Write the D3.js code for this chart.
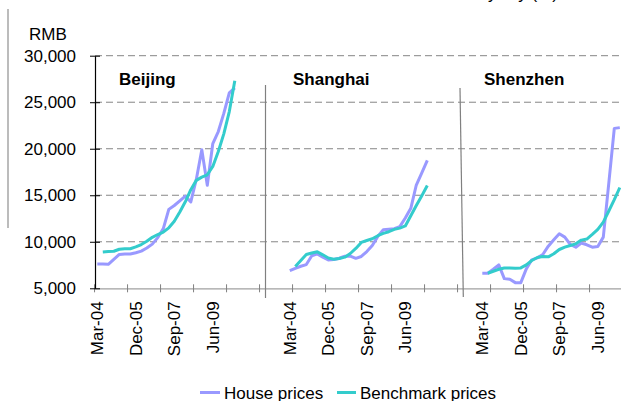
<!DOCTYPE html>
<html>
<head>
<meta charset="utf-8">
<script src="https://cdn.jsdelivr.net/npm/d3@7"></script>
<style>
  html, body { margin: 0; padding: 0; background: #fff; }
  svg { display: block; font-family: "Liberation Sans", Arial, sans-serif; }
</style>
</head>
<body>
<svg id="chart" width="621" height="401"></svg>
<script>
// ---- data ----
const quarters = ["Mar-04","Jun-04","Sep-04","Dec-04","Mar-05","Jun-05","Sep-05","Dec-05",
  "Mar-06","Jun-06","Sep-06","Dec-06","Mar-07","Jun-07","Sep-07","Dec-07",
  "Mar-08","Jun-08","Sep-08","Dec-08","Mar-09","Jun-09","Sep-09","Dec-09","Mar-10","Jun-10"];
const cities = ["Beijing", "Shanghai", "Shenzhen"];
const seriesNames = ["House prices", "Benchmark prices"];

const beijingHouse = [7600, 7600, 7580, 8100, 8640, 8680, 8680, 8820, 9000, 9330, 9750, 10450, 11420,
  13480, 13900, 14400, 14900, 14290, 16700, 19900, 16080, 20560, 21850, 23800, 26000, 26550];
const beijingBenchmark = [null, 8900, 8950, 8980, 9200, 9260, 9250, 9450, 9700, 10050, 10480, 10780, 11050,
  11500, 12200, 13200, 14300, 15600, 16600, 16950, 17200, 18100, 19700, 21600, 24000, 27300];

const shanghaiHouse = [6900, 7150, 7370, 7550, 8500, 8700, 8350, 8040, 8090, 8230, 8450, 8470, 8220,
  8420, 8950, 9600, 10580, 11300, 11350, 11400, 11630, 12550, 13600, 16100, 17400, 18750];
const shanghaiBenchmark = [null, 7350, 8000, 8630, 8800, 8920, 8600, 8250, 8130, 8200, 8350, 8740, 9280,
  9930, 10140, 10320, 10650, 10900, 11080, 11330, 11470, 11700, 12800, 13900, 14950, 16050];

const shenzhenHouse = [6620, 6620, 7050, 7520, 6040, 5970, 5610, 5610, 7090, 8060, 8270, 8630, 9530,
  10220, 10860, 10500, 9710, 9420, 9860, 9680, 9420, 9500, 10500, 16300, 22190, 22270];
const shenzhenBenchmark = [null, 6620, 6830, 7050, 7190, 7190, 7160, 7190, 7520, 7990, 8310, 8420, 8380,
  8710, 9170, 9420, 9600, 9780, 10180, 10290, 10790, 11330, 12120, 13310, 14530, 15830];

const yTicks = [5000, 10000, 15000, 20000, 25000, 30000];
const unitLabel = "RMB";

// ---- layout of the category axis (one axis, three city groups with blank gaps) ----
const groupSpan = 35;           // categories reserved per city group
const totalCats = 96;
const labelEvery = 7;
const tickEvery = 6;

const houseByCity = [beijingHouse, shanghaiHouse, shenzhenHouse];
const benchByCity = [beijingBenchmark, shanghaiBenchmark, shenzhenBenchmark];

const catLabels = d3.range(totalCats).map(i => {
  const g = Math.floor(i / groupSpan), q = i % groupSpan;
  return (g < cities.length && q < quarters.length) ? quarters[q] : "";
});

const svg = d3.select("#chart");
const colors = { house: "#9999FF", bench: "#33CCCC" };

const x = d3.scaleBand().domain(d3.range(totalCats)).range([94.55, 94.55 + totalCats * 5.5]).padding(0);
const y = d3.scaleLinear().domain([5000, 30000]).range([288.3, 55.7]);
const cx = i => x(i) + x.bandwidth() / 2;

// partially visible title at the very top (cut off by the top edge, as in the reference)
svg.append("text").attr("x", 558).attr("y", -1.5).attr("text-anchor", "end")
  .attr("font-size", 17).attr("fill", "#000").text("House values by city (%)");

// left decorative line
svg.append("line").attr("x1", 8).attr("x2", 8).attr("y1", 9).attr("y2", 228)
  .attr("stroke", "#a6a6a6").attr("stroke-width", 1.5);

// gridlines
svg.append("g").selectAll("line").data(yTicks.filter(t => t > 5000)).join("line")
  .attr("x1", 95).attr("x2", 621)
  .attr("y1", d => y(d)).attr("y2", d => y(d))
  .attr("stroke", "#868686").attr("stroke-width", 1).attr("stroke-dasharray", "7,4");

// x axis (baseline at 5,000)
const xAxis = d3.axisBottom(x)
  .tickValues(d3.range(0, totalCats, labelEvery).filter(i => catLabels[i] !== ""))
  .tickFormat(i => catLabels[i]).tickSize(0).tickPadding(0);
const gx = svg.append("g").attr("transform", `translate(0,${y(5000)})`).call(xAxis);
gx.select(".domain").attr("stroke", "#a0a0a0").attr("stroke-width", 1.2);
gx.selectAll(".tick text")
  .attr("transform", "rotate(-90)")
  .attr("x", -13).attr("y", 0).attr("dy", "0.35em")
  .attr("text-anchor", "end")
  .attr("font-size", 17).attr("font-family", "Liberation Sans, Arial, sans-serif").attr("fill", "#000");
// x tick marks every 6 categories (on boundaries)
svg.append("g").selectAll("line").data(d3.range(0, totalCats + 1, tickEvery)).join("line")
  .attr("x1", i => x.range()[0] + i * x.step()).attr("x2", i => x.range()[0] + i * x.step())
  .attr("y1", y(5000) - 4).attr("y2", y(5000) + 4)
  .attr("stroke", "#808080").attr("stroke-width", 1);

// y axis
const yAxis = d3.axisLeft(y).tickValues(yTicks).tickFormat(d3.format(",")).tickSizeInner(5).tickSizeOuter(0).tickPadding(14);
const gy = svg.append("g").attr("transform", "translate(95,0)").call(yAxis);
gy.select(".domain").attr("stroke", "#000").attr("stroke-width", 1.2);
gy.selectAll(".tick line").attr("x1", -5).attr("x2", 5).attr("stroke", "#000");
gy.selectAll(".tick text").attr("font-size", 17).attr("font-family", "Liberation Sans, Arial, sans-serif").attr("fill", "#000");

// unit label
svg.append("text").attr("x", 29).attr("y", 40).attr("font-size", 17).attr("fill", "#000").text(unitLabel);

// panel separators
const sepData = [[265.5, 85, 265.5, 298], [460, 88, 463.3, 297]];
svg.append("g").selectAll("line").data(sepData).join("line")
  .attr("x1", d => d[0]).attr("y1", d => d[1]).attr("x2", d => d[2]).attr("y2", d => d[3])
  .attr("stroke", "#808080").attr("stroke-width", 1.2);

// city titles
const titlePos = [[119, 85], [293, 85], [484, 85]];
svg.append("g").selectAll("text").data(cities).join("text")
  .attr("x", (d, i) => titlePos[i][0]).attr("y", (d, i) => titlePos[i][1])
  .attr("font-size", 17).attr("font-weight", "bold").attr("fill", "#000").text(d => d);

// lines
const line = d3.line().defined(d => d.v != null).x(d => cx(d.i)).y(d => y(d.v));
function pts(arr, g) { return arr.map((v, q) => ({ i: g * groupSpan + q, v })); }

const lg = svg.append("g").attr("fill", "none").attr("stroke-width", 3)
  .attr("stroke-linejoin", "round").attr("stroke-linecap", "butt");
houseByCity.forEach((arr, g) => lg.append("path").attr("d", line(pts(arr, g))).attr("stroke", colors.house));
benchByCity.forEach((arr, g) => lg.append("path").attr("d", line(pts(arr, g))).attr("stroke", colors.bench));

// legend
const legend = svg.append("g");
const legItems = [
  { name: seriesNames[0], color: colors.house, x0: 200, x1: 220, tx: 224 },
  { name: seriesNames[1], color: colors.bench, x0: 337, x1: 356, tx: 360 }
];
legItems.forEach(it => {
  legend.append("line").attr("x1", it.x0).attr("x2", it.x1).attr("y1", 392.5).attr("y2", 392.5)
    .attr("stroke", it.color).attr("stroke-width", 3);
  legend.append("text").attr("x", it.tx).attr("y", 398.5).attr("font-size", 17).attr("fill", "#000").text(it.name);
});
</script>
</body>
</html>
